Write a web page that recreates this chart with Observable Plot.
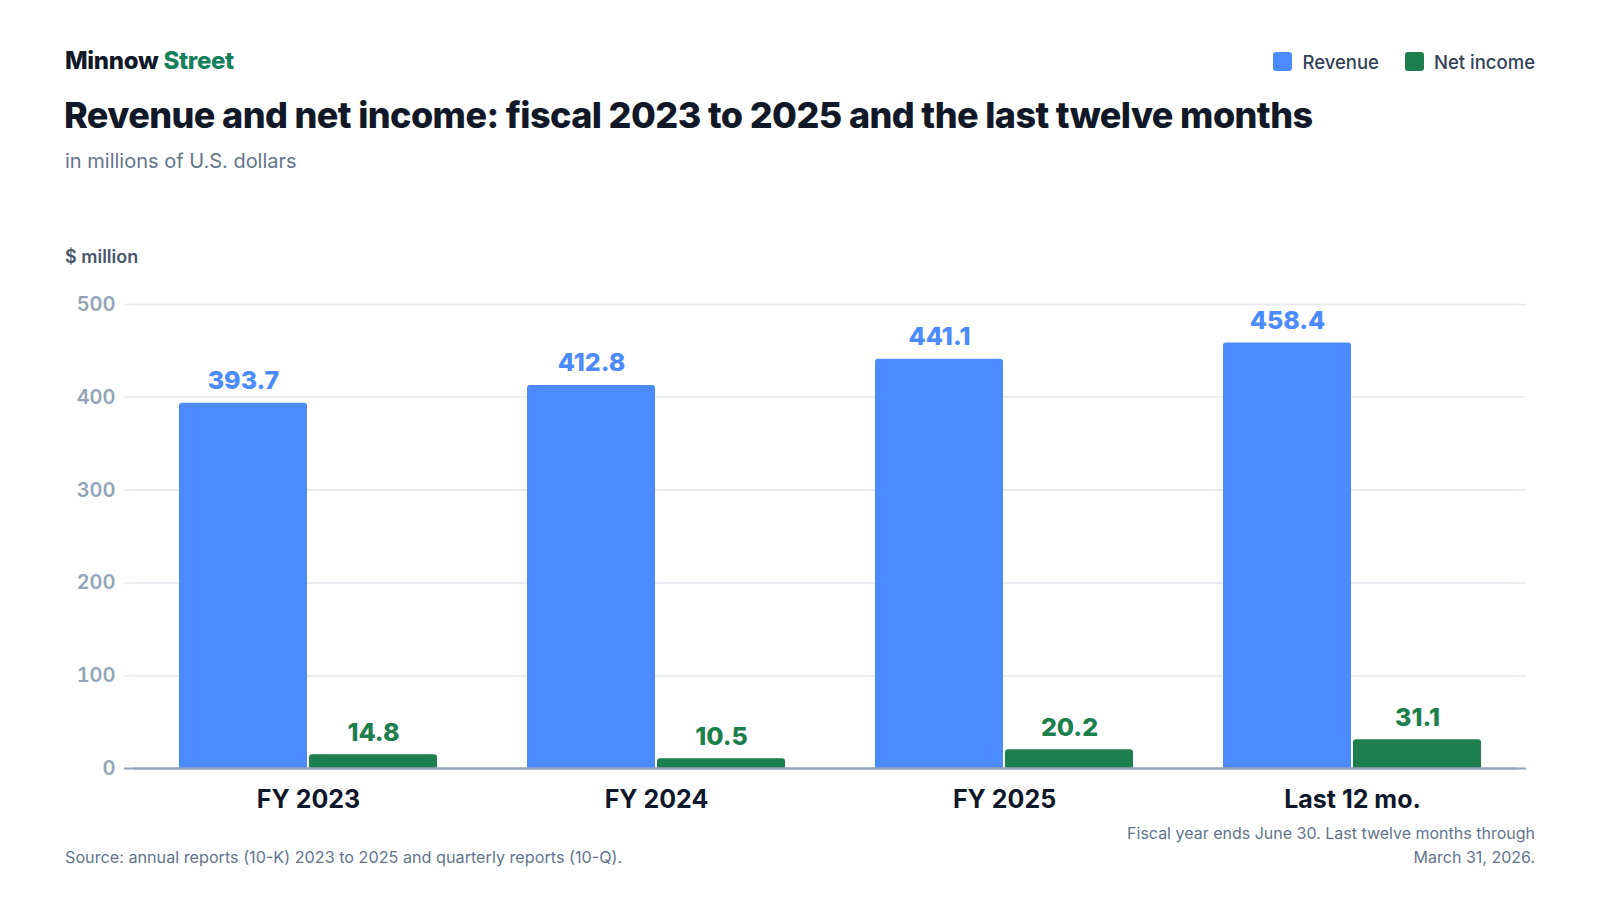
<!DOCTYPE html>
<html>
<head>
<meta charset="utf-8">
<script src="https://cdn.jsdelivr.net/npm/d3@7"></script>
<script src="https://cdn.jsdelivr.net/npm/@observablehq/plot@0.6"></script>
<style>
  html, body { margin: 0; padding: 0; background: #ffffff; }
  body { width: 1600px; height: 900px; font-family: Inter, "Noto Sans", sans-serif; }
  #page { position: relative; width: 1600px; height: 900px; overflow: hidden; }
  .abs { position: absolute; white-space: nowrap; }
  #brand { left: 65px; top: 49px; font-size: 24px; line-height: 24px; font-weight: 800; color: #111827; letter-spacing: -0.3px; }
  #brand span { color: #15805c; }
  #title { left: 64px; top: 97px; font-size: 36px; line-height: 36px; font-weight: 800; color: #111827; letter-spacing: -0.6px; }
  #subtitle { left: 65px; top: 151px; font-size: 20px; line-height: 20px; color: #64748b; }
  #legend { right: 65px; top: 52px; height: 19px; display: flex; align-items: center; font-size: 18.5px; font-weight: 500; color: #334155; }
  #legend .item { display: flex; align-items: center; margin-left: 26px; }
  #legend .sw { width: 19px; height: 19px; border-radius: 3px; margin-right: 10px; }
  #unit { left: 65px; top: 248px; font-size: 18px; line-height: 18px; font-weight: 600; color: #475569; }
  #chart { left: 0; top: 240px; }
  #source { left: 65px; top: 845px; font-size: 16.2px; line-height: 24px; color: #64748b; }
  #note { right: 65px; top: 821px; font-size: 16px; line-height: 24px; color: #64748b; text-align: right; }
</style>
</head>
<body>
<div id="page">
  <div id="brand" class="abs">Minnow <span>Street</span></div>
  <div id="title" class="abs">Revenue and net income: fiscal 2023 to 2025 and the last twelve months</div>
  <div id="subtitle" class="abs">in millions of U.S. dollars</div>
  <div id="legend" class="abs"></div>
  <div id="unit" class="abs">$ million</div>
  <div id="chart" class="abs"></div>
  <div id="source" class="abs">Source: annual reports (10-K) 2023 to 2025 and quarterly reports (10-Q).</div>
  <div id="note" class="abs">Fiscal year ends June 30. Last twelve months through<br>March 31, 2026.</div>
</div>
<script>
const categories = ["FY 2023", "FY 2024", "FY 2025", "Last 12 mo."];
const seriesNames = ["Revenue", "Net income"];
const revenue = [393.7, 412.8, 441.1, 458.4];
const netIncome = [14.8, 10.5, 20.2, 31.1];
const seriesColors = ["#4b8bff", "#1d7f4e"];
const yTicks = [0, 100, 200, 300, 400, 500];

const rows = [];
categories.forEach((c, i) => {
  rows.push({category: c, series: seriesNames[0], value: revenue[i]});
  rows.push({category: c, series: seriesNames[1], value: netIncome[i]});
});

// legend
const legend = document.getElementById("legend");
seriesNames.forEach((s, i) => {
  const item = document.createElement("div");
  item.className = "item";
  if (i === 0) item.style.marginLeft = "0";
  const sw = document.createElement("div");
  sw.className = "sw";
  sw.style.background = seriesColors[i];
  const t = document.createElement("span");
  t.textContent = s;
  item.appendChild(sw);
  item.appendChild(t);
  legend.appendChild(item);
});

const gridStyle = {stroke: "#e8ebf0", strokeWidth: 1.5};
const baseStyle = {stroke: "#94a3b8", strokeWidth: 2};

const chart = Plot.plot({
  width: 1600,
  height: 580,
  marginTop: 64,
  marginBottom: 52,
  marginLeft: 134,
  marginRight: 74,
  style: {fontFamily: "Inter, sans-serif", background: "transparent", overflow: "visible"},
  fx: {domain: categories, padding: 0},
  x: {domain: seriesNames, paddingInner: 0.0154, paddingOuter: 0.346, axis: null},
  y: {domain: [0, 500], axis: null},
  color: {domain: seriesNames, range: seriesColors},
  marks: [
    Plot.ruleY(yTicks, gridStyle),
    Plot.ruleY(yTicks, {...gridStyle, dx: -10}),
    Plot.axisY(yTicks, {tickSize: 0, tickPadding: 19, fontSize: 20, fontWeight: 600, fill: "#94a3b8", label: null, tickFormat: d => String(d)}),
    Plot.barY(rows, {fx: "category", x: "series", y: "value", fill: "series", rx: 3, insetBottom: -6, clip: true}),
    Plot.ruleY([0], baseStyle),
    Plot.ruleY([0], {...baseStyle, dx: -10}),
    Plot.text(rows, {fx: "category", x: "series", y: "value", text: d => d.value.toFixed(1), fill: "series", dy: -14, lineAnchor: "bottom", fontSize: 25, fontWeight: 800}),
    Plot.axisFx({anchor: "bottom", tickSize: 0, tickPadding: 22, fontSize: 25, fontWeight: 700, fill: "#0f172a", label: null})
  ]
});
document.getElementById("chart").appendChild(chart);
</script>
</body>
</html>
